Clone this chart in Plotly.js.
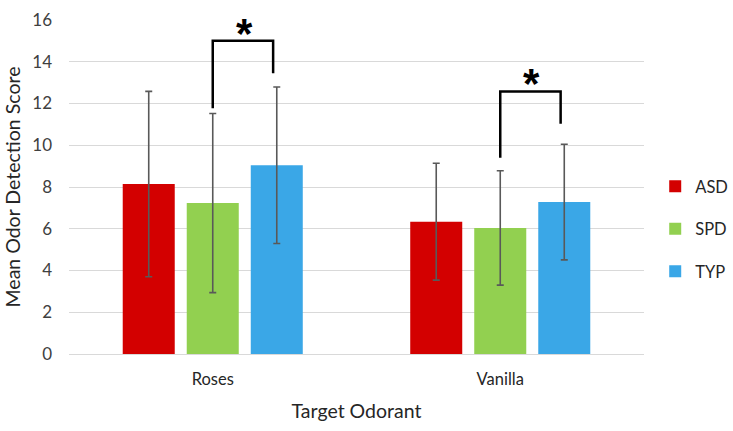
<!DOCTYPE html>
<html>
<head>
<meta charset="utf-8">
<script src="https://cdn.plot.ly/plotly-3.0.1.min.js"></script>
<style>html,body{margin:0;padding:0;background:#fff;}#chart{width:733px;height:431px;}</style>
</head>
<body>
<div id="chart"></div>
<script>
const categories = ["Roses", "Vanilla"];
const seriesNames = ["ASD", "SPD", "TYP"];
const asdMean = [8.14, 6.34];
const spdMean = [7.23, 6.04];
const typMean = [9.04, 7.28];
const asdErr = [4.44, 2.80];
const spdErr = [4.29, 2.74];
const typErr = [3.75, 2.77];
const colors = ["#D30000", "#92D050", "#3AA7E7"];
// significance brackets: [category index, left foot, top, right foot]
const bracketCat = [0, 1];
const bracketLeft = [11.77, 9.40];
const bracketTop = [15.01, 12.58];
const bracketRight = [13.45, 11.03];

const means = [asdMean, spdMean, typMean];
const errs = [asdErr, spdErr, typErr];
const font = "Lato, 'Open Sans', sans-serif";

const traces = seriesNames.map((n, i) => ({
  type: "bar",
  name: n,
  x: categories,
  y: means[i],
  marker: {color: colors[i]},
  legendgroup: n,
  error_y: {type: "data", array: errs[i], visible: true, color: "#595959", thickness: 1.6, width: 3.5}
}));

const shapes = [];
const annotations = [];
const offL = 0.0, offR = 0.21;
bracketCat.forEach((c, k) => {
  shapes.push({
    type: "path", xref: "x", yref: "y",
    path: `M ${c + offL} ${bracketLeft[k]} L ${c + offL} ${bracketTop[k]} L ${c + offR} ${bracketTop[k]} L ${c + offR} ${bracketRight[k]}`,
    line: {color: "#000", width: 2.5}
  });
  annotations.push({
    xref: "x", yref: "y", x: c + (offL + offR) / 2 + 0.005, y: bracketTop[k],
    text: "<b>*</b>", showarrow: false, yanchor: "bottom", yshift: -18,
    font: {family: "'Liberation Sans', Arial, sans-serif", size: 42, color: "#000"}
  });
});

const layout = {
  width: 733, height: 431,
  margin: {l: 68.75, r: 89.25, t: 20, b: 77, autoexpand: false},
  paper_bgcolor: "#fff", plot_bgcolor: "#fff",
  barmode: "group", bargap: 0.332, bargroupgap: 0.1875,
  font: {family: font, color: "#404040"},
  xaxis: {
    type: "category", tickfont: {size: 16.5, color: "#262626"},
    showline: true, linecolor: "#d9d9d9", linewidth: 1, ticks: "", ticklabelstandoff: 10,
    title: {text: "Target Odorant", font: {size: 19.5, color: "#262626"}, standoff: 16}
  },
  yaxis: {
    range: [0, 16], dtick: 2, tickfont: {size: 17, color: "#404040"},
    gridcolor: "#d9d9d9", gridwidth: 1, zeroline: false, ticks: "", ticklabelstandoff: 16,
    title: {text: "Mean Odor Detection Score", font: {size: 19.5, color: "#262626"}, standoff: 6}
  },
  showlegend: true,
  legend: {
    x: 1.0195, y: 0.374, xanchor: "left", yanchor: "middle",
    font: {size: 16.5, color: "#262626"}, tracegroupgap: 18, itemwidth: 30
  },
  shapes: shapes,
  annotations: annotations
};

Plotly.newPlot("chart", traces, layout, {displayModeBar: false, staticPlot: true});
</script>
</body>
</html>
